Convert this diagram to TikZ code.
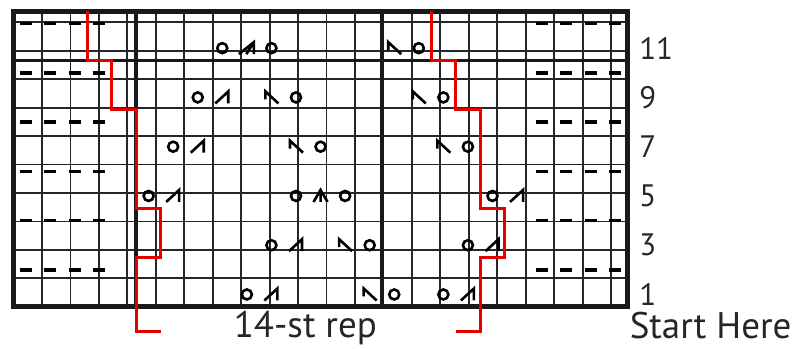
\documentclass[tikz,border=0pt]{standalone}
\usepackage{fontspec}
\setmainfont{PT Sans}
\usepackage{tikz}

\begin{document}
\begin{tikzpicture}[x=24.56pt, y=24.63pt,
    cellgrid/.style={black!85, line width=1.8pt},
    heavy/.style={black!90, line width=3.8pt},
    border/.style={black!90, line width=5pt},
    purl/.style={line width=3.6pt},
    sym/.style={line width=2.6pt, line join=miter},
    repline/.style={red!90!black, line width=3pt, line join=miter},
    rownum/.style={anchor=west, inner sep=0pt, font=\fontsize{31}{31}\selectfont, black!85},
    caption/.style={anchor=base west, inner sep=0pt, font=\fontsize{37}{37}\selectfont, black!85}]
  \useasboundingbox (-0.55,-1.673) rectangle (32.06,12.455);
  % chart grid
  \draw[cellgrid] (0,0) grid (25,12);
  \draw[heavy] (5,0) -- (5,12);
  \draw[heavy] (15,0) -- (15,12);
  \draw[heavy] (0,10) -- (25,10);
  \draw[border] (0,0) rectangle (25,12);
  % purl stitches on the even rows
  \foreach \r in {2,4,...,12}
    \foreach \c in {1,2,3,4,22,23,24,25}
      \draw[purl] (\c-0.5,\r-0.5) ++(-6pt,0) -- ++(12pt,0);
  % yarn overs
  \foreach \c/\r in {10/1, 16/1, 18/1, 11/3, 15/3, 19/3, 6/5, 12/5, 14/5, 20/5,
                     7/7, 13/7, 19/7, 8/9, 12/9, 18/9, 9/11, 11/11, 17/11}
    \draw[sym] (\c-0.5,\r-0.5) circle[radius=5pt];
  % k2tog
  \foreach \c/\r in {11/1, 19/1, 12/3, 20/3, 7/5, 21/5, 8/7, 9/9}
    \draw[sym, shift={(\c-0.5,\r-0.5)}] (-7pt,-6pt) -- (6pt,6pt) -- (6pt,-6pt);
  % ssk
  \foreach \c/\r in {15/1, 14/3, 12/7, 18/7, 11/9, 17/9, 16/11}
    \draw[sym, shift={(\c-0.5,\r-0.5)}] (-6pt,-2pt) -- (-6pt,6pt) -- (7pt,-6pt);
  % k3tog
  \draw[sym, shift={(9.5,10.5)}] (-8pt,-6pt) -- (7pt,6pt) -- (7pt,-6pt)
    (-0.5pt,-6pt) -- (7pt,6pt);
  % centred double decrease
  \draw[sym, shift={(12.5,4.5)}] (-7pt,-6pt) -- (0pt,6pt) -- (7pt,-6pt)
    (0pt,6pt) -- (0pt,-6pt);
  % repeat outline
  \draw[repline] (3,12) -- (3,10) -- (4,10) -- (4,8) -- (5,8) -- (5,4) -- (6,4)
    -- (6,2) -- (5,2) -- (5,-1) -- (6,-1);
  \draw[repline] (17,12) -- (17,10) -- (18,10) -- (18,8) -- (19,8) -- (19,4) -- (20,4)
    -- (20,2) -- (19,2) -- (19,-1) -- (18,-1);
  % row numbers
  \foreach \r in {1,3,...,11}
    \node[rownum] (row\r) at (25.47,\r-0.5) {\r};
  \node[caption] (rep) at (8.96,-1.25) {14-st rep};
  \node[caption] (start) at (25.08,-1.29) {Start Here};
\end{tikzpicture}
\end{document}
